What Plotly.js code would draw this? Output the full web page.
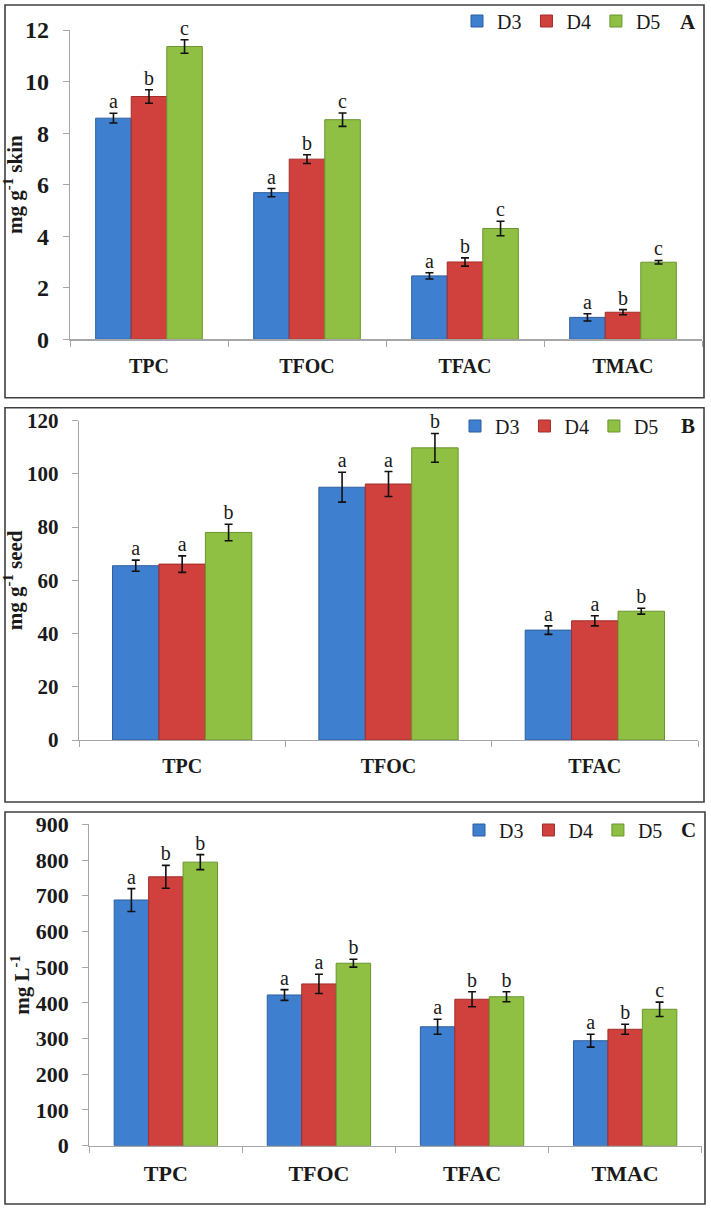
<!DOCTYPE html>
<html>
<head>
<meta charset="utf-8">
<script src="https://cdn.plot.ly/plotly-3.0.1.min.js"></script>
<style>html,body{margin:0;padding:0;background:#fff;}#chart{width:711px;height:1210px;}</style>
</head>
<body>
<div id="chart"></div>
<script>
// ---------- DATA ----------
const seriesNames = ['D3', 'D4', 'D5'];

const catsA = ['TPC', 'TFOC', 'TFAC', 'TMAC'];
const A_D3 = [8.58, 5.69, 2.46, 0.85];
const A_D4 = [9.42, 6.99, 3.00, 1.05];
const A_D5 = [11.36, 8.52, 4.30, 2.99];
const A_D3_err = [0.19, 0.16, 0.12, 0.14];
const A_D4_err = [0.26, 0.17, 0.16, 0.10];
const A_D5_err = [0.26, 0.26, 0.28, 0.07];
const A_D3_sig = ['a', 'a', 'a', 'a'];
const A_D4_sig = ['b', 'b', 'b', 'b'];
const A_D5_sig = ['c', 'c', 'c', 'c'];

const catsB = ['TPC', 'TFOC', 'TFAC'];
const B_D3 = [65.5, 95.0, 41.3];
const B_D4 = [66.1, 96.2, 44.8];
const B_D5 = [78.0, 109.8, 48.4];
const B_D3_err = [2.1, 5.6, 1.6];
const B_D4_err = [3.1, 4.7, 1.9];
const B_D5_err = [3.1, 5.4, 1.1];
const B_D3_sig = ['a', 'a', 'a'];
const B_D4_sig = ['a', 'a', 'a'];
const B_D5_sig = ['b', 'b', 'b'];

const catsC = ['TPC', 'TFOC', 'TFAC', 'TMAC'];
const C_D3 = [688, 422, 333, 294];
const C_D4 = [753, 453, 410, 326];
const C_D5 = [794, 511, 417, 382];
const C_D3_err = [32, 15, 21, 18];
const C_D4_err = [32, 27, 21, 14];
const C_D5_err = [21, 11, 14, 20];
const C_D3_sig = ['a', 'a', 'a', 'a'];
const C_D4_sig = ['b', 'a', 'b', 'b'];
const C_D5_sig = ['b', 'b', 'b', 'c'];

// ---------- STYLE ----------
const FONT = 'Liberation Serif';
const colors = ['#3f7fcf', '#d0403c', '#8fc043'];
const lineColors = ['#2d5f9e', '#a02e2b', '#6a9430'];
const W = 711, H = 1210;
const px = v => v / W;
const py = v => 1 - v / H;

const panels = [
  {cats: catsA, vals: [A_D3, A_D4, A_D5], errs: [A_D3_err, A_D4_err, A_D5_err], sigs: [A_D3_sig, A_D4_sig, A_D5_sig], ax: '', legend: 'legend'},
  {cats: catsB, vals: [B_D3, B_D4, B_D5], errs: [B_D3_err, B_D4_err, B_D5_err], sigs: [B_D3_sig, B_D4_sig, B_D5_sig], ax: '2', legend: 'legend2'},
  {cats: catsC, vals: [C_D3, C_D4, C_D5], errs: [C_D3_err, C_D4_err, C_D5_err], sigs: [C_D3_sig, C_D4_sig, C_D5_sig], ax: '3', legend: 'legend3'}
];

const traces = [];
panels.forEach(p => {
  const xa = 'x' + p.ax, ya = 'y' + p.ax;
  p.vals.forEach((v, i) => {
    traces.push({
      type: 'bar', x: p.cats, y: v, name: seriesNames[i],
      xaxis: xa, yaxis: ya, legend: p.legend,
      offsetgroup: seriesNames[i],
      marker: {color: colors[i], line: {color: lineColors[i], width: 1}},
      error_y: {type: 'data', array: p.errs[i], visible: true, color: '#111', thickness: 1.6, width: 4},
      hoverinfo: 'skip'
    });
  });
  p.vals.forEach((v, i) => {
    traces.push({
      type: 'scatter', mode: 'text', x: p.cats,
      y: v.map((val, k) => val + p.errs[i][k]),
      text: p.sigs[i], textposition: 'top center',
      textfont: {family: FONT, size: 20, color: '#1a1a1a'},
      xaxis: xa, yaxis: ya, offsetgroup: seriesNames[i],
      showlegend: false, hoverinfo: 'skip', cliponaxis: false
    });
  });
});

function xAxis(dom, anchor, fs) {
  return {domain: dom, anchor: anchor, type: 'category', showline: true, linecolor: '#a6a6a6', linewidth: 1.2,
    ticks: 'outside', tickson: 'boundaries', ticklen: 6, tickcolor: '#a6a6a6', showgrid: false, zeroline: false,
    tickfont: {family: FONT, size: fs, color: '#1a1a1a', weight: 'bold'}, ticklabelstandoff: 8, fixedrange: true};
}
function yAxis(dom, anchor, range, dtick, title, fs) {
  return {domain: dom, anchor: anchor, range: range, dtick: dtick, showline: true, linecolor: '#a6a6a6', linewidth: 1.2,
    ticks: 'outside', ticklen: 6, tickcolor: '#a6a6a6', showgrid: false, zeroline: false,
    tickfont: {family: FONT, size: fs, color: '#1a1a1a', weight: 'bold'}, ticklabelstandoff: 9,
    title: {text: title, font: {family: FONT, size: 21, color: '#1a1a1a', weight: 'bold'}, standoff: 0},
    fixedrange: true};
}

const legendFont = {family: FONT, size: 20, color: '#1a1a1a'};
function legendBox(xr, yc) {
  return {orientation: 'h', x: px(xr), xanchor: 'right', y: py(yc), yanchor: 'middle', bgcolor: 'rgba(0,0,0,0)',
    font: legendFont, itemwidth: 30};
}

const frameLine = {color: '#404040', width: 1.6};
const panelLetterFont = {family: FONT, size: 21, color: '#1a1a1a', weight: 'bold'};
const layout = {
  width: W, height: H,
  margin: {l: 0, r: 0, t: 0, b: 0},
  paper_bgcolor: '#ffffff', plot_bgcolor: 'rgba(0,0,0,0)',
  font: {family: FONT, color: '#1a1a1a'},
  barmode: 'group', bargap: 0.325, bargroupgap: 0,
  scattermode: 'group', scattergap: 0.325,
  xaxis: xAxis([px(70), px(702)], 'y', 20),
  yaxis: yAxis([py(339.3), py(30)], 'x', [0, 12], 2, '<b>mg g<sup>-1</sup> skin</b>', 24),
  xaxis2: xAxis([px(79), px(698)], 'y2', 20),
  yaxis2: yAxis([py(740), py(420.7)], 'x2', [0, 120], 20, '<b>mg g<sup>-1</sup> seed</b>', 21),
  xaxis3: xAxis([px(89.3), px(701.7)], 'y3', 22),
  yaxis3: yAxis([py(1145.7), py(824.3)], 'x3', [0, 900], 100, '<b>mg L<sup>-1</sup></b>', 22),
  legend: legendBox(666, 21),
  legend2: legendBox(664, 426),
  legend3: legendBox(668, 830),
  shapes: [
    {type: 'rect', xref: 'paper', yref: 'paper', x0: px(5), x1: px(704), y0: py(397.7), y1: py(5), line: frameLine},
    {type: 'rect', xref: 'paper', yref: 'paper', x0: px(5), x1: px(704), y0: py(802), y1: py(407.7), line: frameLine},
    {type: 'rect', xref: 'paper', yref: 'paper', x0: px(5), x1: px(705), y0: py(1204), y1: py(812), line: frameLine}
  ],
  annotations: [
    {text: '<b>A</b>', xref: 'paper', yref: 'paper', x: px(688), y: py(22), xanchor: 'center', yanchor: 'middle', showarrow: false, font: panelLetterFont},
    {text: '<b>B</b>', xref: 'paper', yref: 'paper', x: px(688), y: py(426), xanchor: 'center', yanchor: 'middle', showarrow: false, font: panelLetterFont},
    {text: '<b>C</b>', xref: 'paper', yref: 'paper', x: px(688), y: py(830), xanchor: 'center', yanchor: 'middle', showarrow: false, font: panelLetterFont}
  ],
  showlegend: true
};

Plotly.newPlot('chart', traces, layout, {displayModeBar: false, staticPlot: true});
</script>
</body>
</html>
